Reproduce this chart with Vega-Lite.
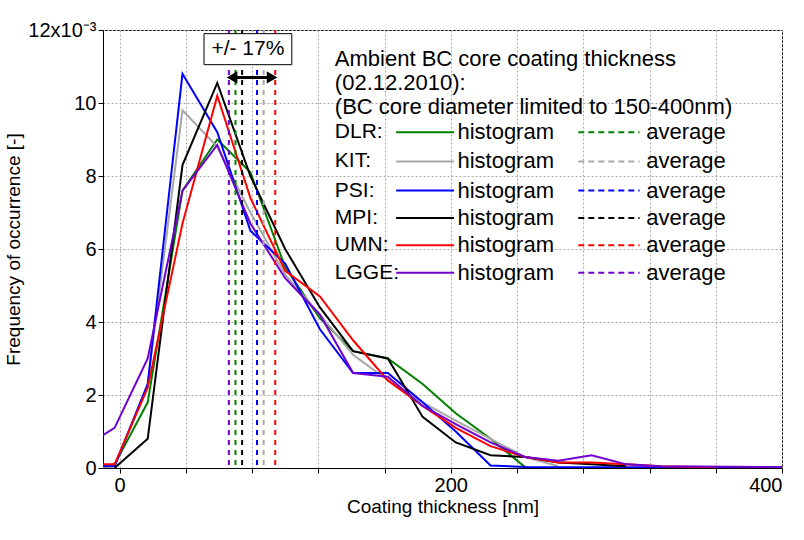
{
  "$schema": "https://vega.github.io/schema/vega-lite/v6.json",
  "width": 679,
  "height": 438,
  "autosize": {"type": "none"},
  "padding": {"left": 103, "top": 30, "right": 22, "bottom": 72},
  "config": {
    "font": "Liberation Sans",
    "view": {"stroke": "black", "strokeWidth": 1},
    "axis": {"grid": true, "labelFont": "Liberation Sans", "titleFont": "Liberation Sans", "labelFontSize": 20, "titleFontSize": 19, "titleFontWeight": "normal", "labelColor": "black", "titleColor": "black", "domainColor": "black", "tickColor": "black", "gridColor": "#aaaaaa", "gridDash": [2, 2], "gridWidth": 1}
  },
  "datasets": {
    "hist": [
      {"s": "DLR", "x": -10, "y": 0.05}, {"s": "DLR", "x": -3, "y": 0.1}, {"s": "DLR", "x": 17, "y": 1.8}, {"s": "DLR", "x": 38, "y": 7.6}, {"s": "DLR", "x": 59, "y": 9.0}, {"s": "DLR", "x": 79, "y": 8.1}, {"s": "DLR", "x": 100, "y": 5.5}, {"s": "DLR", "x": 121, "y": 4.1}, {"s": "DLR", "x": 141, "y": 3.2}, {"s": "DLR", "x": 162, "y": 3.0}, {"s": "DLR", "x": 183, "y": 2.3}, {"s": "DLR", "x": 203, "y": 1.5}, {"s": "DLR", "x": 224, "y": 0.8}, {"s": "DLR", "x": 245, "y": 0.02},
      {"s": "KIT", "x": -10, "y": 0.02}, {"s": "KIT", "x": -3, "y": 0.05}, {"s": "KIT", "x": 17, "y": 2.3}, {"s": "KIT", "x": 38, "y": 9.8}, {"s": "KIT", "x": 59, "y": 8.8}, {"s": "KIT", "x": 79, "y": 7.0}, {"s": "KIT", "x": 100, "y": 5.3}, {"s": "KIT", "x": 121, "y": 4.2}, {"s": "KIT", "x": 141, "y": 3.1}, {"s": "KIT", "x": 162, "y": 2.4}, {"s": "KIT", "x": 183, "y": 1.8}, {"s": "KIT", "x": 203, "y": 1.3}, {"s": "KIT", "x": 224, "y": 0.8}, {"s": "KIT", "x": 245, "y": 0.3}, {"s": "KIT", "x": 265, "y": 0.05},
      {"s": "PSI", "x": -10, "y": 0.05}, {"s": "PSI", "x": -3, "y": 0.05}, {"s": "PSI", "x": 17, "y": 2.3}, {"s": "PSI", "x": 38, "y": 10.8}, {"s": "PSI", "x": 59, "y": 9.2}, {"s": "PSI", "x": 79, "y": 6.5}, {"s": "PSI", "x": 100, "y": 5.6}, {"s": "PSI", "x": 121, "y": 3.8}, {"s": "PSI", "x": 141, "y": 2.6}, {"s": "PSI", "x": 162, "y": 2.6}, {"s": "PSI", "x": 183, "y": 1.8}, {"s": "PSI", "x": 203, "y": 1.0}, {"s": "PSI", "x": 224, "y": 0.07}, {"s": "PSI", "x": 245, "y": 0.03}, {"s": "PSI", "x": 300, "y": 0.02}, {"s": "PSI", "x": 400, "y": 0.02},
      {"s": "MPI", "x": -3, "y": 0}, {"s": "MPI", "x": 17, "y": 0.8}, {"s": "MPI", "x": 38, "y": 8.3}, {"s": "MPI", "x": 59, "y": 10.55}, {"s": "MPI", "x": 79, "y": 8.0}, {"s": "MPI", "x": 100, "y": 6.0}, {"s": "MPI", "x": 121, "y": 4.4}, {"s": "MPI", "x": 141, "y": 3.2}, {"s": "MPI", "x": 162, "y": 3.0}, {"s": "MPI", "x": 183, "y": 1.4}, {"s": "MPI", "x": 203, "y": 0.7}, {"s": "MPI", "x": 224, "y": 0.35}, {"s": "MPI", "x": 245, "y": 0.3}, {"s": "MPI", "x": 265, "y": 0.15}, {"s": "MPI", "x": 285, "y": 0.1}, {"s": "MPI", "x": 306, "y": 0.05},
      {"s": "UMN", "x": -10, "y": 0.1}, {"s": "UMN", "x": -3, "y": 0.1}, {"s": "UMN", "x": 17, "y": 2.2}, {"s": "UMN", "x": 38, "y": 6.7}, {"s": "UMN", "x": 59, "y": 10.2}, {"s": "UMN", "x": 79, "y": 7.4}, {"s": "UMN", "x": 100, "y": 5.4}, {"s": "UMN", "x": 121, "y": 4.7}, {"s": "UMN", "x": 141, "y": 3.5}, {"s": "UMN", "x": 162, "y": 2.4}, {"s": "UMN", "x": 183, "y": 1.7}, {"s": "UMN", "x": 203, "y": 1.1}, {"s": "UMN", "x": 224, "y": 0.6}, {"s": "UMN", "x": 245, "y": 0.3}, {"s": "UMN", "x": 265, "y": 0.15}, {"s": "UMN", "x": 285, "y": 0.15}, {"s": "UMN", "x": 306, "y": 0.1}, {"s": "UMN", "x": 327, "y": 0.05}, {"s": "UMN", "x": 360, "y": 0.02},
      {"s": "LGGE", "x": -10, "y": 0.9}, {"s": "LGGE", "x": -3, "y": 1.1}, {"s": "LGGE", "x": 17, "y": 3.0}, {"s": "LGGE", "x": 38, "y": 7.6}, {"s": "LGGE", "x": 59, "y": 8.85}, {"s": "LGGE", "x": 79, "y": 6.7}, {"s": "LGGE", "x": 100, "y": 5.2}, {"s": "LGGE", "x": 121, "y": 4.2}, {"s": "LGGE", "x": 141, "y": 2.6}, {"s": "LGGE", "x": 162, "y": 2.5}, {"s": "LGGE", "x": 183, "y": 1.7}, {"s": "LGGE", "x": 203, "y": 1.2}, {"s": "LGGE", "x": 224, "y": 0.7}, {"s": "LGGE", "x": 245, "y": 0.3}, {"s": "LGGE", "x": 265, "y": 0.2}, {"s": "LGGE", "x": 285, "y": 0.35}, {"s": "LGGE", "x": 306, "y": 0.1}, {"s": "LGGE", "x": 327, "y": 0.05}, {"s": "LGGE", "x": 400, "y": 0.02}
    ],
    "avg": [
      {"s": "LGGE", "x": 66}, {"s": "DLR", "x": 70}, {"s": "MPI", "x": 74},
      {"s": "PSI", "x": 83}, {"s": "KIT", "x": 87}, {"s": "UMN", "x": 94}
    ],
    "leg": [
      {"s": "DLR", "label": "DLR:", "ly": 9.2},
      {"s": "KIT", "label": "KIT:", "ly": 8.4},
      {"s": "PSI", "label": "PSI:", "ly": 7.6},
      {"s": "MPI", "label": "MPI:", "ly": 6.85},
      {"s": "UMN", "label": "UMN:", "ly": 6.1},
      {"s": "LGGE", "label": "LGGE:", "ly": 5.35}
    ],
    "title": [
      {"t": "Ambient BC core coating thickness", "ly": 11.2},
      {"t": "(02.12.2010):", "ly": 10.55},
      {"t": "(BC core diameter limited to 150-400nm)", "ly": 9.9}
    ]
  },
  "layer": [
    {
      "data": {"name": "hist"},
      "mark": {"type": "line", "strokeWidth": 2, "clip": true},
      "encoding": {
        "x": {"field": "x", "type": "quantitative", "scale": {"domain": [-10, 400], "nice": false, "zero": false}, "title": "Coating thickness [nm]",
          "axis": {"values": [0, 20, 40, 60, 80, 100, 120, 140, 160, 180, 200, 220, 240, 260, 280, 300, 320, 340, 360, 380, 400], "labelExpr": "datum.value % 100 == 0 ? datum.label : ''", "tickSize": 5, "titlePadding": 2}},
        "y": {"field": "y", "type": "quantitative", "scale": {"domain": [0, 12], "nice": false}, "title": "Frequency of occurrence [-]",
          "axis": {"values": [0, 1, 2, 3, 4, 5, 6, 7, 8, 9, 10, 11, 12], "labelExpr": "datum.value == 12 ? '12x10⁻³' : (datum.value % 2 == 0 ? datum.label : '')", "tickSize": 5, "titlePadding": 4}},
        "color": {"field": "s", "type": "nominal", "legend": null, "scale": {"domain": ["DLR", "KIT", "PSI", "MPI", "UMN", "LGGE"], "range": ["#008000", "#a8a8a8", "#0000ff", "#000000", "#ff0000", "#7000d0"]}},
        "detail": {"field": "s"}
      }
    },
    {
      "data": {"name": "avg"},
      "mark": {"type": "rule", "strokeWidth": 2, "strokeDash": [5, 5]},
      "encoding": {
        "x": {"field": "x", "type": "quantitative"},
        "color": {"field": "s", "type": "nominal"}
      }
    },
    {
      "data": {"name": "leg"},
      "mark": {"type": "text", "align": "left", "baseline": "middle", "fontSize": 21, "color": "black"},
      "encoding": {"x": {"datum": 130, "type": "quantitative"}, "y": {"field": "ly", "type": "quantitative"}, "text": {"field": "label"}}
    },
    {
      "data": {"name": "leg"},
      "mark": {"type": "rule", "strokeWidth": 2},
      "encoding": {"x": {"datum": 167, "type": "quantitative"}, "x2": {"datum": 202}, "y": {"field": "ly", "type": "quantitative"}, "color": {"field": "s", "type": "nominal"}}
    },
    {
      "data": {"name": "leg"},
      "mark": {"type": "text", "align": "left", "baseline": "middle", "fontSize": 22, "color": "black", "text": "histogram"},
      "encoding": {"x": {"datum": 204, "type": "quantitative"}, "y": {"field": "ly", "type": "quantitative"}}
    },
    {
      "data": {"name": "leg"},
      "mark": {"type": "rule", "strokeWidth": 2, "strokeDash": [6, 4]},
      "encoding": {"x": {"datum": 277, "type": "quantitative"}, "x2": {"datum": 314}, "y": {"field": "ly", "type": "quantitative"}, "color": {"field": "s", "type": "nominal"}}
    },
    {
      "data": {"name": "leg"},
      "mark": {"type": "text", "align": "left", "baseline": "middle", "fontSize": 22, "color": "black", "text": "average"},
      "encoding": {"x": {"datum": 318, "type": "quantitative"}, "y": {"field": "ly", "type": "quantitative"}}
    },
    {
      "data": {"name": "title"},
      "mark": {"type": "text", "align": "left", "baseline": "middle", "fontSize": 22, "color": "black"},
      "encoding": {"x": {"datum": 130, "type": "quantitative"}, "y": {"field": "ly", "type": "quantitative"}, "text": {"field": "t"}}
    },
    {
      "data": {"values": [{"x1": 51, "x2": 104, "y1": 11.05, "y2": 11.9}]},
      "mark": {"type": "rect", "fill": "white", "stroke": "black", "strokeWidth": 1},
      "encoding": {"x": {"field": "x1", "type": "quantitative"}, "x2": {"field": "x2"}, "y": {"field": "y1", "type": "quantitative"}, "y2": {"field": "y2"}}
    },
    {
      "data": {"values": [{"x": 77.5, "y": 11.47, "t": "+/- 17%"}]},
      "mark": {"type": "text", "align": "center", "baseline": "middle", "fontSize": 21, "color": "black"},
      "encoding": {"x": {"field": "x", "type": "quantitative"}, "y": {"field": "y", "type": "quantitative"}, "text": {"field": "t"}}
    },
    {
      "data": {"values": [{"x1": 69, "x2": 91, "y": 10.7}]},
      "mark": {"type": "rule", "strokeWidth": 3, "color": "black"},
      "encoding": {"x": {"field": "x1", "type": "quantitative"}, "x2": {"field": "x2"}, "y": {"field": "y", "type": "quantitative"}}
    },
    {
      "data": {"values": [{"x": 69, "y": 10.7, "a": 270}, {"x": 91, "y": 10.7, "a": 90}]},
      "mark": {"type": "point", "shape": "triangle", "filled": true, "color": "black", "size": 150, "opacity": 1},
      "encoding": {"x": {"field": "x", "type": "quantitative"}, "y": {"field": "y", "type": "quantitative"}, "angle": {"field": "a", "type": "quantitative", "scale": null}}
    }
  ]
}
